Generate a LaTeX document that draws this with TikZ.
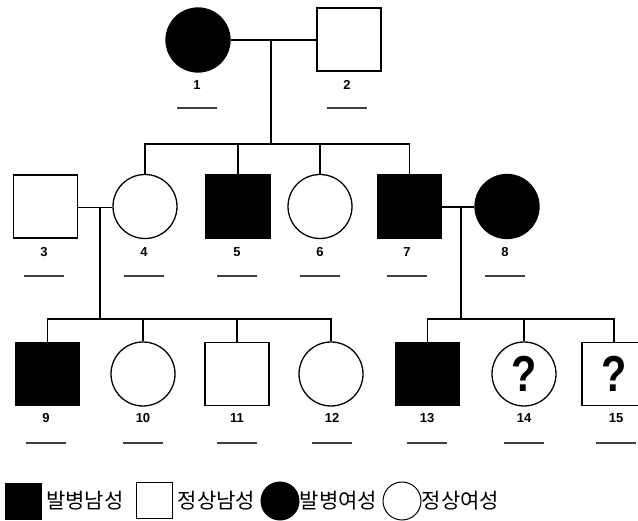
\documentclass[tikz,border=0pt]{standalone}
\usepackage{fontspec}
\setmainfont{Liberation Sans}
\newfontfamily\kor{Noto Sans CJK KR}
\newcommand{\qmark}{\scalebox{0.9}[1.1]{\fontsize{46}{46}\selectfont\bfseries ?}}
\begin{document}
\begin{tikzpicture}[x=1pt,y=-1pt,
  line width=1.3pt,
  male/.style={draw, rectangle, minimum width=64pt, minimum height=63pt, inner sep=0pt},
  female/.style={draw, circle, minimum size=64pt, inner sep=0pt},
  aff/.style={fill=black},
  num/.style={font=\fontsize{13}{13}\selectfont\bfseries, inner sep=0pt},
  ul/.style={line width=1.2pt, black!75},
  legsq/.style={draw, rectangle, minimum size=36pt, inner sep=0pt, line width=1pt},
  legci/.style={draw, circle, minimum size=38pt, inner sep=0pt, line width=1pt},
  legtx/.style={font=\kor\fontsize{21}{21}\selectfont, inner sep=0pt}
]
\useasboundingbox (0,0) rectangle (638,521);
\clip (0,0) rectangle (638,521);

% generation 1
\node[female,aff] (p1) at (198,40) {};
\node[male] (p2) at (349,39.5) {};
% generation 2
\node[male] (p3) at (45.5,206.5) {};
\node[female] (p4) at (145,206.5) {};
\node[male,aff] (p5) at (238,206.5) {};
\node[female] (p6) at (320,206.5) {};
\node[male,aff] (p7) at (409.5,206.5) {};
\node[female,aff] (p8) at (507,206.5) {};
% generation 3
\node[male,aff] (p9) at (47.5,374) {};
\node[female] (p10) at (143,374) {};
\node[male] (p11) at (237,374) {};
\node[female] (p12) at (331,374) {};
\node[male,aff] (p13) at (427.5,374) {};
\node[female] (p14) at (524,374) {\qmark};
\node[male] (p15) at (614,374) {\qmark};

% marriage and descent lines
\coordinate (m12) at (271,40);
\coordinate (s2) at (271,144);
\draw (p1.east) -- (p2.west |- p1.east);
\draw (m12) -- (s2);
\draw (p4.north) -- (p4.north |- s2) -- (p7.north |- s2) -- (p7.north);
\draw (p5.north) -- (p5.north |- s2);
\draw (p6.north) -- (p6.north |- s2);

\coordinate (m34) at (100,207.5);
\coordinate (s3l) at (100,319);
\draw (p3.east |- m34) -- (p4.west |- m34);
\draw (m34) -- (s3l);
\draw (p9.north) -- (p9.north |- s3l) -- (p12.north |- s3l) -- (p12.north);
\draw (p10.north) -- (p10.north |- s3l);
\draw (p11.north) -- (p11.north |- s3l);

\coordinate (m78) at (461,207);
\coordinate (s3r) at (461,319);
\draw (p7.east |- m78) -- (p8.west |- m78);
\draw (m78) -- (s3r);
\draw (p13.north) -- (p13.north |- s3r) -- (p15.north |- s3r) -- (p15.north);
\draw (p14.north) -- (p14.north |- s3r);

% number labels and blanks
\foreach \n/\x in {1/197,2/347} {
  \node[num] (l\n) at (\x,85) {\n};
  \draw[ul] (\x-20,108) -- (\x+20,108);
}
\foreach \n/\x in {3/44,4/144,5/237,6/320,7/407,8/505} {
  \node[num] (l\n) at (\x,252) {\n};
  \draw[ul] (\x-20,276) -- (\x+20,276);
}
\foreach \n/\x in {9/46,10/143,11/237,12/332,13/427,14/524,15/616} {
  \node[num] (l\n) at (\x,418) {\n};
  \draw[ul] (\x-20,443) -- (\x+20,443);
}

% legend
\node[legsq,aff] (g1) at (23.5,501.5) {};
\node[legtx] (t1) at (85,501) {발병남성};
\node[legsq] (g2) at (154.5,500.5) {};
\node[legtx] (t2) at (216.5,501) {정상남성};
\node[legci,aff] (g3) at (280,501) {};
\node[legtx] (t3) at (338.5,501) {발병여성};
\node[legci] (g4) at (402,501) {};
\node[legtx] (t4) at (460.5,501) {정상여성};
\end{tikzpicture}
\end{document}
